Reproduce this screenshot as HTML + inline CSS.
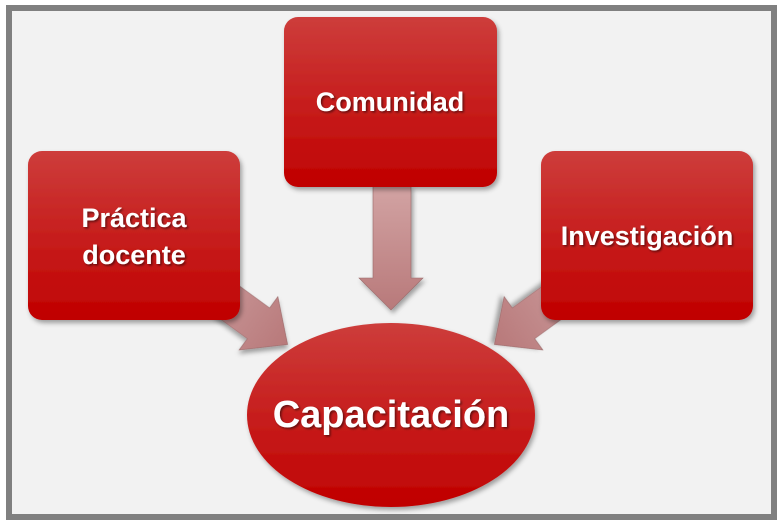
<!DOCTYPE html>
<html><head><style>
html,body{margin:0;padding:0;background:#fff;}
svg{display:block;}
text{font-family:"Liberation Sans",sans-serif;font-weight:bold;fill:#fff;}
</style></head><body>
<svg width="782" height="527" viewBox="0 0 782 527">
<defs>
<linearGradient id="r" x1="0" y1="0" x2="0" y2="1">
<stop offset="0" stop-color="#cd3d3b"/><stop offset="1" stop-color="#c00000"/>
</linearGradient>
<linearGradient id="a" x1="0" y1="0" x2="0" y2="1">
<stop offset="0" stop-color="#d2a3a3"/><stop offset="1" stop-color="#b8797a"/>
</linearGradient>
<linearGradient id="ah" x1="0" y1="0" x2="1" y2="0">
<stop offset="0" stop-color="#c89596"/><stop offset="1" stop-color="#b8797a"/>
</linearGradient>
<filter id="s" x="-10%" y="-10%" width="130%" height="130%">
<feDropShadow dx="2" dy="3" stdDeviation="2.5" flood-color="#000" flood-opacity="0.35"/>
</filter>
<filter id="ts"><feDropShadow dx="1.5" dy="1.5" stdDeviation="1" flood-color="#000" flood-opacity="0.5"/></filter>
</defs>
<rect x="9" y="8" width="765" height="509" fill="#f2f2f2" stroke="#808080" stroke-width="6"/>
<polygon points="373,186 411,186 411,278 423,278 391,310 359,278 373,278" fill="url(#a)" stroke="#9a6a6a" stroke-width="0.6" filter="url(#s)"/>
<g transform="translate(214,291) rotate(36)">
<polygon points="0,-19 55,-19 55,-33 91,0 55,33 55,19 0,19" fill="url(#ah)" stroke="#9a6a6a" stroke-width="0.6" filter="url(#s)"/>
</g>
<g transform="translate(568,291) rotate(144)">
<polygon points="0,-19 55,-19 55,-33 91,0 55,33 55,19 0,19" fill="url(#ah)" stroke="#9a6a6a" stroke-width="0.6" filter="url(#s)"/>
</g>
<rect x="28" y="151" width="212" height="169" rx="14" fill="url(#r)" filter="url(#s)"/>
<rect x="284" y="17" width="213" height="170" rx="14" fill="url(#r)" filter="url(#s)"/>
<rect x="541" y="151" width="212" height="169" rx="14" fill="url(#r)" filter="url(#s)"/>
<ellipse cx="391" cy="415" rx="144" ry="92" fill="url(#r)" filter="url(#s)"/>
<g filter="url(#ts)">
<text x="134" y="227" font-size="27" text-anchor="middle">Práctica</text>
<text x="134" y="264" font-size="27" text-anchor="middle">docente</text>
<text x="390" y="111" font-size="27" text-anchor="middle">Comunidad</text>
<text x="647" y="245" font-size="27" text-anchor="middle">Investigación</text>
<text x="391" y="427" font-size="38" text-anchor="middle">Capacitación</text>
</g>
</svg>
</body></html>
